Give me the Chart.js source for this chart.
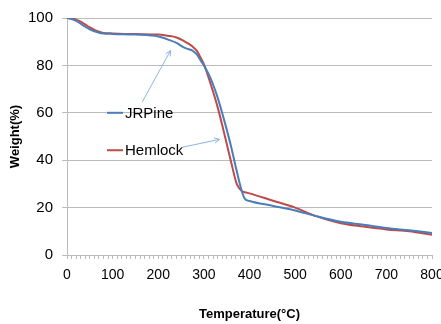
<!DOCTYPE html>
<html>
<head>
<meta charset="utf-8">
<script src="https://cdn.jsdelivr.net/npm/chart.js@4.4.0/dist/chart.umd.min.js"></script>
<style>
html,body{margin:0;padding:0;background:#fff;}
#wrap{width:441px;height:324px;}
</style>
</head>
<body>
<div id="wrap"><canvas id="c" width="441" height="324"></canvas></div>
<script>
const temperatures = [0,10,20,30,40,50,60,70,80,100,150,200,220,240,255,265,275,285,290,295,300,310,320,330,340,350,360,372,383,390,400,450,500,544,600,650,700,750,800];
const jrpine  = [100,99.6,98.8,97.6,96.3,95.2,94.4,93.8,93.5,93.3,93,92.2,91,89.5,87.7,86.9,86.2,84.5,83,81.5,80,76.5,72,66.5,60,53,45.5,35.4,27,23.7,22.8,20.8,18.8,16.5,14,12.8,11.4,10.4,9.3];
const hemlock = [100,99.8,99.3,98.5,97.3,96,95,94.2,93.7,93.5,93.2,93,92.5,91.8,90.5,89.3,88,86,84.3,82.5,80.5,75,69,62.5,55,47,39,30,27,26.5,26,23,20,16.5,13.4,12,10.8,10,8.5];
const seriesNames = ['JRPine','Hemlock'];
const xTickLabels = [0,100,200,300,400,500,600,700,800];
const yTickLabels = [0,20,40,60,80,100];
// arrow annotations in data coordinates: [fromT, fromW, toT, toW]
const arrowJRPine  = [165, 64.6, 227, 86.3];
const arrowHemlock = [251, 45.4, 335, 48.8];

const BLUE = '#4a7ebb', RED = '#be4b48', GRID = '#bcbcbc';

const annot = {
  id: 'annot',
  afterDatasetsDraw(chart) {
    const ctx = chart.ctx, xs = chart.scales.x, ys = chart.scales.y;
    const ca = chart.chartArea;
    const items = [[seriesNames[0], BLUE, ys.getPixelForValue(60)], [seriesNames[1], RED, ys.getPixelForValue(44.2)]];
    ctx.save();
    ctx.font = '15px "Liberation Sans", Arial, sans-serif';
    ctx.textBaseline = 'middle';
    items.forEach(([name, col, py]) => {
      ctx.strokeStyle = col; ctx.lineWidth = 2;
      ctx.beginPath(); ctx.moveTo(ca.left + 40, py); ctx.lineTo(ca.left + 56, py); ctx.stroke();
      ctx.fillStyle = '#000'; ctx.fillText(name, ca.left + 58, py + 1);
    });
    ctx.strokeStyle = '#8db3e2'; ctx.lineWidth = 1;
    [arrowJRPine, arrowHemlock].forEach(a => {
      const x1 = xs.getPixelForValue(a[0]), y1 = ys.getPixelForValue(a[1]);
      const x2 = xs.getPixelForValue(a[2]), y2 = ys.getPixelForValue(a[3]);
      ctx.beginPath(); ctx.moveTo(x1, y1); ctx.lineTo(x2, y2); ctx.stroke();
      const ang = Math.atan2(y2 - y1, x2 - x1), L = 6;
      ctx.beginPath();
      ctx.moveTo(x2 - L * Math.cos(ang - 0.45), y2 - L * Math.sin(ang - 0.45));
      ctx.lineTo(x2, y2);
      ctx.lineTo(x2 - L * Math.cos(ang + 0.45), y2 - L * Math.sin(ang + 0.45));
      ctx.stroke();
    });
    ctx.restore();
  }
};

const mk = (arr) => temperatures.map((t, i) => ({x: t, y: arr[i]}));

new Chart(document.getElementById('c'), {
  type: 'line',
  data: {
    datasets: [
      {label: seriesNames[0], data: mk(jrpine), borderColor: BLUE, borderWidth: 2, pointRadius: 0, cubicInterpolationMode: 'monotone', fill: false},
      {label: seriesNames[1], data: mk(hemlock), borderColor: RED, borderWidth: 2, pointRadius: 0, cubicInterpolationMode: 'monotone', fill: false}
    ]
  },
  options: {
    responsive: false,
    animation: false,
    layout: {padding: {top: 15, right: 9, left: 0, bottom: 0}},
    plugins: {legend: {display: false}, tooltip: {enabled: false}},
    scales: {
      x: {
        type: 'linear', min: 0, max: 800,
        afterFit(s) { s.height = 69; s.paddingRight = 0; s.paddingLeft = 0; },
        afterBuildTicks(s) { const t = []; for (let v = 0; v <= 800; v += 10) t.push({value: v}); s.ticks = t; },
        ticks: {
          autoSkip: false, maxRotation: 0, padding: 8, color: '#000',
          font: {family: '"Liberation Sans", Arial, sans-serif', size: 14},
          callback: (v) => xTickLabels.includes(v) ? String(v) : ''
        },
        grid: {drawOnChartArea: false, tickLength: 4, color: GRID},
        border: {color: GRID},
        title: {display: true, text: 'Temperature(°C)', color: '#000', font: {family: '"Liberation Sans", Arial, sans-serif', size: 13, weight: 'bold'}, padding: {top: 0, bottom: 2}}
      },
      y: {
        min: 0, max: 100,
        afterFit(s) { s.width = 67; },
        afterBuildTicks(s) { s.ticks = yTickLabels.map(v => ({value: v})); },
        ticks: {
          padding: 9, color: '#000',
          font: {family: '"Liberation Sans", Arial, sans-serif', size: 15}
        },
        grid: {color: GRID, tickLength: 5},
        border: {color: GRID},
        title: {display: true, text: 'Weight(%)', color: '#000', font: {family: '"Liberation Sans", Arial, sans-serif', size: 13, weight: 'bold'}, padding: {top: 8, bottom: 0}}
      }
    }
  },
  plugins: [annot]
});
</script>
</body>
</html>
